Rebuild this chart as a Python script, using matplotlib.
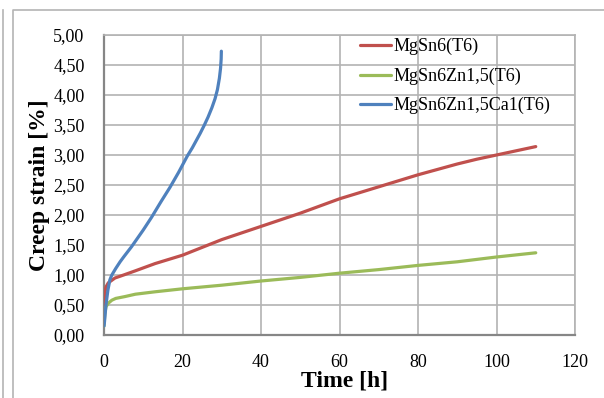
import numpy as np
import matplotlib
matplotlib.use("Agg")
import matplotlib.pyplot as plt
from matplotlib.lines import Line2D
from matplotlib.ticker import FuncFormatter

# creep curves: time [h], strain [%]
t_mgsn6 = [0, 0.2, 0.5, 1.1, 2.8, 5, 8, 13, 20, 25, 30, 35, 40, 45, 50, 55, 60,
           65, 70, 75, 80, 85, 90, 95, 100, 105, 110]
s_mgsn6 = [0.45, 0.70, 0.80, 0.87, 0.95, 1.00, 1.07, 1.19, 1.33, 1.46, 1.59, 1.70, 1.81, 1.92, 2.03, 2.15, 2.27,
           2.37, 2.47, 2.57, 2.67, 2.76, 2.85, 2.93, 3.00, 3.07, 3.14]

t_zn = [0, 0.2, 0.5, 1.1, 2, 3, 5.3, 8, 13, 20, 25, 30, 40, 50, 60, 70, 80, 90, 100, 110]
s_zn = [0.15, 0.35, 0.47, 0.53, 0.58, 0.61, 0.64, 0.68, 0.72, 0.77, 0.80, 0.83, 0.90, 0.96, 1.03, 1.09, 1.16, 1.22, 1.30, 1.37]

t_ca = [0, 0.1, 0.5, 1.0, 1.5, 2, 3, 4.1, 5, 7, 8.5, 10, 12.1, 14.5, 16.8, 19, 21.2, 22.5, 23.5,
        24.5, 25.5, 26.5, 27.5, 28.3, 28.9, 29.4, 29.7, 29.85, 29.9]
s_ca = [0.15, 0.20, 0.50, 0.75, 0.92, 1.00, 1.11, 1.22, 1.30, 1.47, 1.61, 1.75, 1.96, 2.22, 2.46, 2.71, 2.98, 3.12, 3.24,
        3.36, 3.49, 3.63, 3.79, 3.94, 4.09, 4.28, 4.45, 4.60, 4.73]

labels = ["MgSn6(T6)", "MgSn6Zn1,5(T6)", "MgSn6Zn1,5Ca1(T6)"]
colors = ["#c0504d", "#9bbb59", "#4f81bd"]

x_ticks = [0, 20, 40, 60, 80, 100, 120]
y_ticks = [0, 0.5, 1.0, 1.5, 2.0, 2.5, 3.0, 3.5, 4.0, 4.5, 5.0]

plt.rcParams['font.family'] = ['Liberation Serif', 'DejaVu Serif']

fig = plt.figure(figsize=(6.04, 3.98), dpi=100)
ax = fig.add_axes([104 / 604, 1 - 335 / 398, (575 - 104) / 604, (335 - 35) / 398])

# outer frame like the Excel chart area
grey = "#b4b4b4"
fig.add_artist(Line2D([3 / 604, 3 / 604], [0, 1 - 10 / 398], transform=fig.transFigure, color=grey, lw=1.2))
fig.add_artist(Line2D([13 / 604, 13 / 604, 1], [0, 1 - 10 / 398, 1 - 10 / 398],
                      transform=fig.transFigure, color=grey, lw=1.2))

for t, s, lab, c in zip([t_mgsn6, t_zn, t_ca], [s_mgsn6, s_zn, s_ca], labels, colors):
    ax.plot(t, s, color=c, lw=2.3, label=lab, solid_capstyle='round', solid_joinstyle='round', zorder=3)

ax.set_xlim(0, 120)
ax.set_ylim(0, 5)
ax.set_xticks(x_ticks)
ax.set_yticks(y_ticks)
ax.yaxis.set_major_formatter(FuncFormatter(lambda v, p: f"{v:.2f}".replace('.', ',')))
ax.grid(True, color="#b3b3b3", lw=1.2)
ax.set_axisbelow(True)
ax.tick_params(length=0, labelsize=13, pad=14)

for side in ['top', 'right']:
    ax.spines[side].set_color("#b3b3b3")
    ax.spines[side].set_linewidth(1.2)
for side in ['left', 'bottom']:
    ax.spines[side].set_color("#868686")
    ax.spines[side].set_linewidth(1.6)

fig.text(345 / 604, 1 - 381 / 398, "Time [h]", fontsize=17, fontweight='bold', ha='center', va='center')
fig.text(40 / 604, 1 - 185 / 398, "Creep strain [%]", fontsize=17, fontweight='bold',
         ha='center', va='center', rotation=90)

ax.legend(loc='upper left', bbox_to_anchor=(360 / 604, 1 - 38 / 398), bbox_transform=fig.transFigure,
          frameon=False, fontsize=13, handlelength=1.7, handletextpad=0.15, labelspacing=0.68,
          borderpad=0, borderaxespad=0)

fig.savefig("out.png", dpi=100)
